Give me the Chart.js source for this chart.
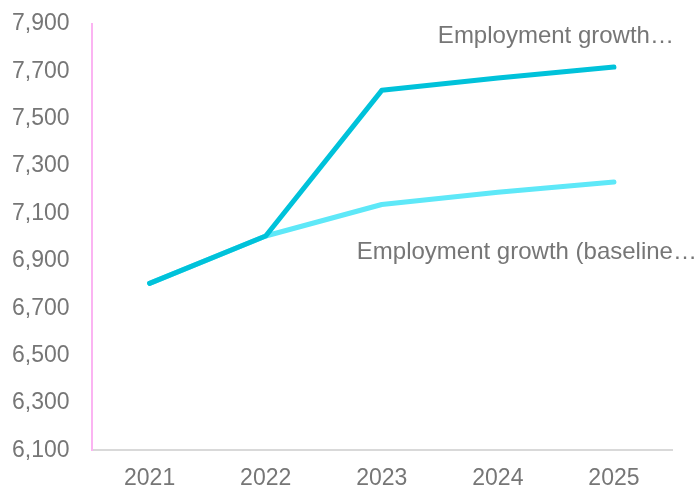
<!DOCTYPE html>
<html lang="en">
<head>
    <meta charset="UTF-8">
    <title>Employment growth</title>
    <script src="https://cdn.jsdelivr.net/npm/chart.js"></script>
    <style>
        html, body { margin: 0; padding: 0; background: #fff; }
    </style>
</head>
<body>
    <canvas id="chart" width="696" height="489"></canvas>

    <script>
        // datos
        var years = ['2021', '2022', '2023', '2024', '2025'];
        var highGrowth = [6805, 7005, 7620, 7672, 7718];
        var baselineGrowth = [6805, 7005, 7138, 7190, 7233];
        var highLabel = 'Employment growth\u2026';
        var baselineLabel = 'Employment growth (baseline\u2026';

        Chart.defaults.font.family = '"Liberation Sans", Arial, sans-serif';

        // etiquetas al lado de cada linea
        var lineLabels = {
            id: 'lineLabels',
            afterDatasetsDraw: function (chart) {
                var ctx = chart.ctx;
                ctx.save();
                ctx.font = '24px "Liberation Sans", Arial, sans-serif';
                ctx.fillStyle = '#767676';
                ctx.textAlign = 'right';
                ctx.textBaseline = 'middle';
                var hi = chart.getDatasetMeta(0).data[years.length - 1];
                var base = chart.getDatasetMeta(1).data[years.length - 1];
                ctx.fillText(highLabel, hi.x + 60, hi.y - 31);
                ctx.fillText(baselineLabel, base.x + 83, base.y + 70);
                ctx.restore();
            }
        };

        var ctx = document.getElementById('chart').getContext('2d');
        var chart = new Chart(ctx, {
            type: 'line',
            data: {
                labels: years,
                datasets: [{
                    label: highLabel,
                    data: highGrowth,
                    borderColor: '#00c2da',
                    borderWidth: 5,
                    pointRadius: 0,
                    borderCapStyle: 'round',
                    borderJoinStyle: 'round',
                    tension: 0
                }, {
                    label: baselineLabel,
                    data: baselineGrowth,
                    borderColor: '#5ee8f8',
                    borderWidth: 5,
                    pointRadius: 0,
                    borderCapStyle: 'round',
                    borderJoinStyle: 'round',
                    tension: 0
                }]
            },
            options: {
                responsive: false,
                animation: false,
                layout: { padding: { top: 24, right: 24, left: -10, bottom: -17 } },
                plugins: {
                    legend: { display: false },
                    tooltip: { enabled: false }
                },
                scales: {
                    x: {
                        offset: true,
                        grid: { display: false, drawTicks: false },
                        border: { color: '#d9d9d9', width: 2 },
                        ticks: { color: '#767676', font: { size: 23 }, padding: 14 }
                    },
                    y: {
                        min: 6100,
                        max: 7900,
                        grid: { display: false, drawTicks: false },
                        border: { color: '#fbb4f2', width: 2 },
                        ticks: {
                            stepSize: 200,
                            color: '#767676',
                            font: { size: 23 },
                            padding: 22,
                            callback: function (v) { return v.toLocaleString('en-US'); }
                        },
                        afterFit: function (scale) {
                            scale.paddingTop = 0;
                            scale.paddingBottom = 0;
                        }
                    }
                }
            },
            plugins: [lineLabels]
        });
    </script>
</body>
</html>
